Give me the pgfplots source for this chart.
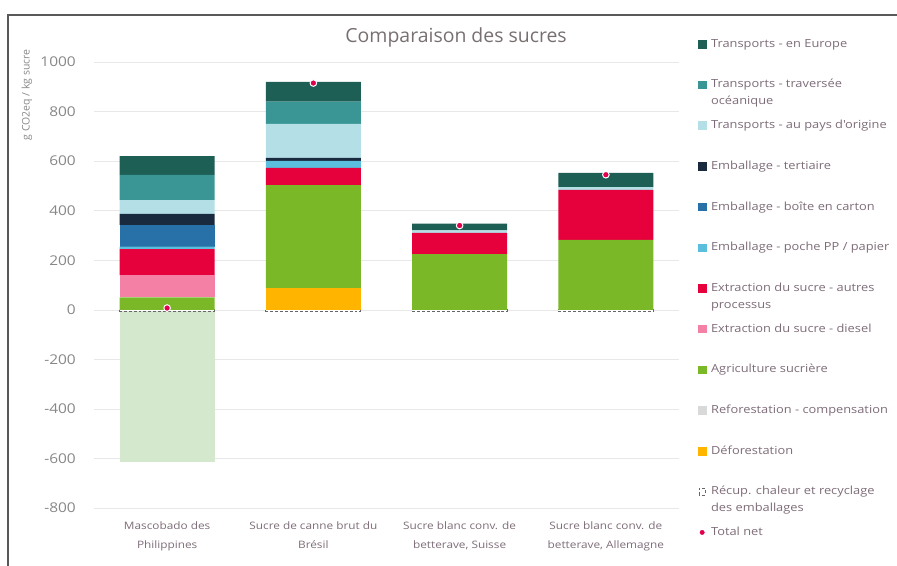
\documentclass[border=0pt]{standalone}
\usepackage{fontspec}
\setmainfont{Open Sans}
\newfontfamily\wide[FakeStretch=1.15]{Open Sans}
\usepackage{pgfplots}
\pgfplotsset{compat=1.18}

\definecolor{cEurope}{RGB}{29,94,85}
\definecolor{cOcean}{RGB}{58,150,148}
\definecolor{cPays}{RGB}{180,223,230}
\definecolor{cTert}{RGB}{26,42,62}
\definecolor{cCarton}{RGB}{40,112,168}
\definecolor{cPoche}{RGB}{90,190,220}
\definecolor{cAutres}{RGB}{230,0,60}
\definecolor{cDiesel}{RGB}{244,128,166}
\definecolor{cAgri}{RGB}{122,184,40}
\definecolor{cRefor}{RGB}{212,232,206}
\definecolor{cDefor}{RGB}{255,180,0}
\definecolor{cNet}{RGB}{224,0,77}
\definecolor{txt}{RGB}{125,108,120}
\definecolor{tick}{RGB}{135,135,135}
\definecolor{ttl}{RGB}{120,112,112}

\pgfplotsset{
  base/.style={
    scale only axis, width=585bp, height=446bp,
    at={(94bp,58bp)}, anchor=south west,
    xmin=-0.5, xmax=3.5, ymin=-800, ymax=1000,
    bar width=95bp,
  },
}
\newcommand\legsq[1]{\addlegendimage{legend image code/.code={\fill[#1] (0bp,-0.5bp) rectangle (7.5bp,7bp);}}}
\newcommand\two[2]{\vtop{\baselineskip=17bp\hbox{#1}\hbox{#2}}}

\begin{document}
\begin{tikzpicture}
\path[use as bounding box] (0,0) rectangle (897bp,566bp);

% negative stack, grid, ticks, labels and legend
\begin{axis}[base, ybar stacked,
  axis line style={draw=none}, major tick length=0pt,
  ymajorgrids, grid style={draw=black!9},
  ytick={-800,-600,...,1000},
  /pgf/number format/assume math mode=true,
  /pgf/number format/1000 sep={},
  yticklabel style={font=\wide\fontsize{13.5}{15}\selectfont, text=tick, inner sep=0pt, xshift=-18bp},
  xtick={0,1,2,3},
  xticklabels={{Mascobado des\\Philippines}, {Sucre de canne brut du\\Brésil}, {Sucre blanc conv. de\\betterave, Suisse}, {Sucre blanc conv. de\\betterave, Allemagne}},
  xticklabel style={font=\wide\fontsize{10.3}{19}\selectfont, text=txt, align=center, inner sep=0pt, yshift=-14bp},
  ylabel={g CO2eq / kg sucre},
  ylabel style={at={(rel axis cs:-0.1145,0.926)}, anchor=center, font=\fontsize{10.5}{12}\selectfont, text=tick},
  title={Comparaison des sucres},
  title style={at={(rel axis cs:0.619,1)}, anchor=base, yshift=14bp, font=\fontsize{19.5}{22}\selectfont, text=ttl},
  legend style={at={(rel axis cs:1.0325,1.0538)}, anchor=north west, draw=none, fill=none,
    inner sep=0pt, row sep=0pt, column sep=5bp,
    cells={anchor=base west},
    nodes={text height=9bp, text depth=31.7bp, inner sep=0pt, font=\wide\fontsize{11.2}{17}\selectfont, text=txt}},
]
\legsq{cEurope}\addlegendentry{Transports - en Europe}
\legsq{cOcean}\addlegendentry{\two{Transports - traversée}{océanique}}
\legsq{cPays}\addlegendentry{Transports - au pays d'origine}
\legsq{cTert}\addlegendentry{Emballage - tertiaire}
\legsq{cCarton}\addlegendentry{Emballage - boîte en carton}
\legsq{cPoche}\addlegendentry{Emballage - poche PP / papier}
\legsq{cAutres}\addlegendentry{\two{Extraction du sucre - autres}{processus}}
\legsq{cDiesel}\addlegendentry{Extraction du sucre - diesel}
\legsq{cAgri}\addlegendentry{Agriculture sucrière}
\legsq{black!15}\addlegendentry{Reforestation - compensation}
\legsq{cDefor}\addlegendentry{Déforestation}
\addlegendimage{legend image code/.code={\draw[black!60, densely dashed, line width=0.8bp] (0.5bp,0bp) rectangle (7bp,6.5bp);}}
\addlegendentry{\two{Récup. chaleur et recyclage}{des emballages}}
\addlegendimage{legend image code/.code={\fill[cNet] (3.75bp,3.2bp) circle (2.2bp);}}
\addlegendentry{Total net}

% Récup. chaleur et recyclage des emballages
\addplot[forget plot, fill=white, draw=black!60, densely dashed, line width=0.9bp] coordinates {(0,-5) (1,-5) (2,-8) (3,-8)};
% Reforestation - compensation
\addplot[forget plot, fill=cRefor, draw=none] coordinates {(0,-608) (1,0) (2,0) (3,0)};
\end{axis}

% positive stack
\begin{axis}[base, ybar stacked, hide axis]
\addplot[fill=cDefor, draw=none] coordinates {(0,0) (1,88) (2,0) (3,0)};
\addplot[fill=cAgri, draw=none] coordinates {(0,50) (1,415) (2,225) (3,282)};
\addplot[fill=cDiesel, draw=none] coordinates {(0,90) (1,0) (2,0) (3,0)};
\addplot[fill=cAutres, draw=none] coordinates {(0,105) (1,70) (2,85) (3,202)};
\addplot[fill=cPoche, draw=none] coordinates {(0,10) (1,28) (2,0) (3,0)};
\addplot[fill=cCarton, draw=none] coordinates {(0,88) (1,0) (2,0) (3,0)};
\addplot[fill=cTert, draw=none] coordinates {(0,44) (1,12) (2,0) (3,0)};
\addplot[fill=cPays, draw=none] coordinates {(0,56) (1,137) (2,10) (3,11)};
\addplot[fill=cOcean, draw=none] coordinates {(0,101) (1,90) (2,0) (3,0)};
\addplot[fill=cEurope, draw=none] coordinates {(0,76) (1,80) (2,28) (3,58)};
\end{axis}

% total net
\begin{axis}[base, hide axis]
\addplot[only marks, mark=*, mark size=3.3bp, mark options={fill=cNet, draw=white, line width=1bp}]
  coordinates {(0,7) (1,915) (2,340) (3,545)};
\end{axis}

\draw[line width=1.5bp, black!65] (8bp,0bp) -- (8bp,551bp) -- (897bp,551bp);
\end{tikzpicture}
\end{document}
